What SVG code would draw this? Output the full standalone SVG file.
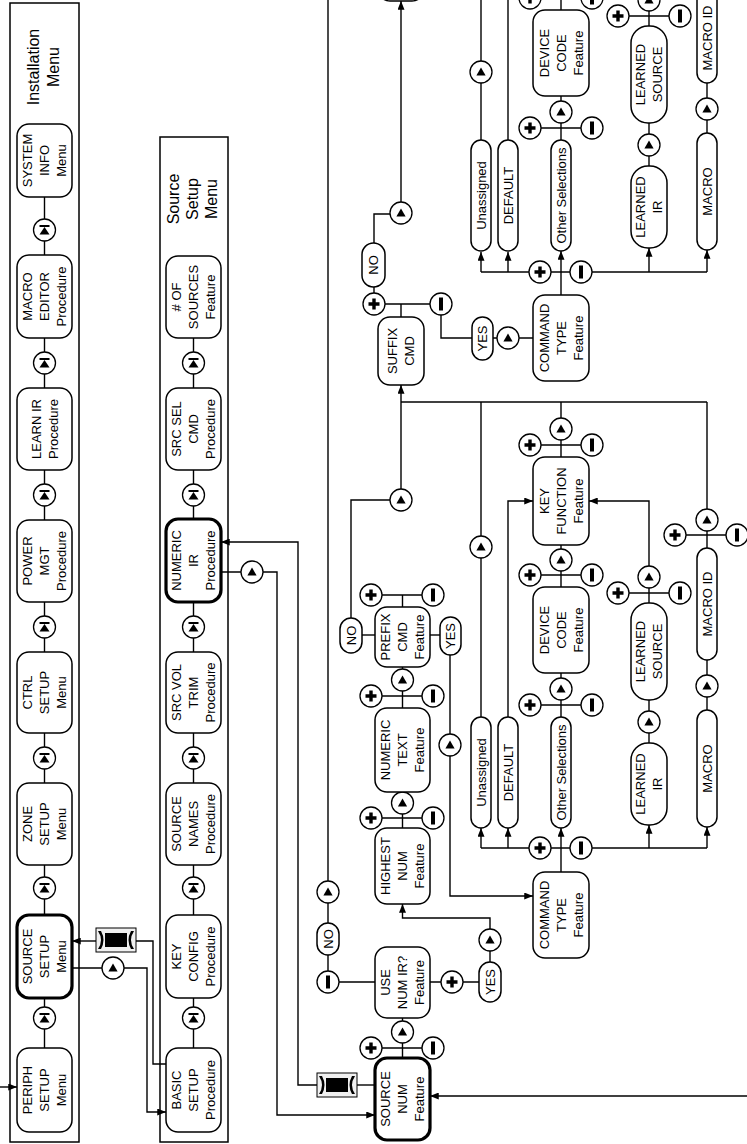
<svg xmlns="http://www.w3.org/2000/svg" width="747" height="1144" viewBox="0 0 747 1144">
<style>
.n{fill:#fff;stroke:#000;stroke-width:1.5}
.nb{fill:#fff;stroke:#000;stroke-width:3.2}
.c{fill:none;stroke:#000;stroke-width:1.4}
.ca{fill:none;stroke:#000;stroke-width:1.4;marker-end:url(#ah)}
.b{fill:#fff;stroke:#000;stroke-width:1.3}
.fr{fill:none;stroke:#000;stroke-width:1.5}
text{font-family:"Liberation Sans",Arial,sans-serif;font-size:13px;text-anchor:middle;fill:#000}
.tt{font-size:16px}
</style>
<defs>
<marker id="ah" viewBox="0 0 10 8" refX="10" refY="4" markerWidth="9" markerHeight="7" markerUnits="userSpaceOnUse" orient="auto"><path d="M0,0L10,4L0,8z" fill="#000"/></marker>
<g id="tri"><circle r="11" class="b"/><polygon points="0,-4.5 4.6,3.5 -4.6,3.5" fill="#000"/></g>
<g id="pl"><circle r="11" class="b"/><path d="M-5.5,0H5.5M0,-5.5V5.5" stroke="#000" stroke-width="3.4"/></g>
<g id="mi"><circle r="11" class="b"/><rect x="-2" y="-6.5" width="4" height="13" fill="#000"/></g>
<g id="st"><circle r="11" class="b"/><rect x="-5" y="-5" width="10" height="2" fill="#000"/><polygon points="0,-3 5,4.5 -5,4.5" fill="#000"/></g>
<g id="rb"><rect x="-20" y="-12" width="40" height="24" fill="#f0f0f0" stroke="#000" stroke-width="1"/><rect x="-11" y="-7" width="22" height="14" fill="#000"/><path d="M-18,-9Q-12,0 -18,9L-15,9Q-10,0 -15,-9Z" fill="#000"/><path d="M18,-9Q12,0 18,9L15,9Q10,0 15,-9Z" fill="#000"/></g>
</defs>
<rect width="747" height="1144" fill="#fff"/>

<g id="frames">
<rect class="fr" x="10" y="3" width="69" height="1139"/>
<rect class="fr" x="160" y="137" width="68" height="1005"/>
<text class="tt" transform="translate(43,67) rotate(-90)"><tspan x="0" y="-4.3">Installation</tspan><tspan x="0" y="15.7">Menu</tspan></text>
<text class="tt" transform="translate(192,199) rotate(-90)"><tspan x="0" y="-13.3">Source</tspan><tspan x="0" y="5.7">Setup</tspan><tspan x="0" y="24.7">Menu</tspan></text>
</g>

<g id="connectors">
<path class="c" d="M44.5,197V1048"/>
<path class="ca" d="M0,1087H17"/>
<path class="c" d="M193.5,338V1048"/>
<path class="ca" d="M96,941H72"/>
<path class="c" d="M136,941H153V1064H166"/>
<path class="ca" d="M72,968H147V1112H166"/>
<path class="ca" d="M317,1085H298V542H221"/>
<path class="c" d="M375,1085H357"/>
<path class="ca" d="M221,572H277V1115H375"/>
<path class="ca" d="M747,1096H430"/>
<path class="c" d="M402.5,1058V1018M371,1048H433"/>
<path class="c" d="M375,982H328V-5"/>
<path class="c" d="M430,982H479"/>
<path class="ca" d="M490,962V918H402.5V904"/>
<path class="c" d="M402.5,828V792M371,818H433"/>
<path class="c" d="M402.5,708V667M371,696H433"/>
<path class="c" d="M402.5,607V595M371,595H433"/>
<path class="c" d="M375,635H362"/>
<path class="ca" d="M351,618V500H401V385"/>
<path class="c" d="M430,635H441"/>
<path class="ca" d="M450,655V896H533"/>
<path class="c" d="M401,402H707"/>
<path class="c" d="M481,402V717"/>
<path class="c" d="M561,402V457M530,445H592"/>
<path class="c" d="M707,402V548M675,535H737"/>
<path class="c" d="M561,545V587M530,575H592"/>
<path class="c" d="M561,673V717M530,705H592"/>
<path class="ca" d="M561,872V828"/>
<path class="c" d="M481,848H707"/>
<path class="ca" d="M481,848V828"/>
<path class="ca" d="M508,848V828"/>
<path class="ca" d="M649,848V825"/>
<path class="ca" d="M707,848V827"/>
<path class="ca" d="M508,717V501H533"/>
<path class="ca" d="M649,603V501H589"/>
<path class="c" d="M618,593H680"/>
<path class="c" d="M649,743V700"/>
<path class="c" d="M707,710V660"/>
<path class="c" d="M401,317V304M374,304H441"/>
<path class="c" d="M374,293V287"/>
<path class="ca" d="M374,243V214H401V1"/>
<path class="c" d="M441,315V338H472"/>
<path class="c" d="M493,338H533"/>
<path class="ca" d="M561,295V251"/>
<path class="c" d="M481,272H707"/>
<path class="ca" d="M481,272V252"/>
<path class="ca" d="M508,272V252"/>
<path class="ca" d="M649,272V248"/>
<path class="ca" d="M707,272V250"/>
<path class="c" d="M561,140V96M530,128H592"/>
<path class="c" d="M561,10V-20M530,-2H592"/>
<path class="c" d="M649,166V123"/>
<path class="c" d="M649,26V-20M618,16H680"/>
<path class="c" d="M707,133V83"/>
<path class="c" d="M481,140V-5"/>
<path class="c" d="M508,140V-5"/>
</g>

<g id="buttons">
<use href="#st" x="44.5" y="230"/><use href="#st" x="44.5" y="363"/><use href="#st" x="44.5" y="495"/><use href="#st" x="44.5" y="627"/><use href="#st" x="44.5" y="758"/><use href="#st" x="44.5" y="888"/><use href="#st" x="44.5" y="1018"/>
<use href="#st" x="193.5" y="363"/><use href="#st" x="193.5" y="495"/><use href="#st" x="193.5" y="627"/><use href="#st" x="193.5" y="758"/><use href="#st" x="193.5" y="888"/><use href="#st" x="193.5" y="1018"/>
<use href="#rb" x="116" y="940"/>
<use href="#rb" x="337" y="1085"/>
<use href="#tri" x="113" y="968"/><use href="#tri" x="252" y="572"/><use href="#tri" x="402.5" y="1032"/><use href="#tri" x="328" y="892"/><use href="#tri" x="490" y="940"/><use href="#tri" x="402.5" y="803"/><use href="#tri" x="402.5" y="680"/><use href="#tri" x="401" y="500"/><use href="#tri" x="450" y="745"/><use href="#tri" x="481" y="547"/><use href="#tri" x="561" y="429"/><use href="#tri" x="707" y="520"/><use href="#tri" x="561" y="560"/><use href="#tri" x="561" y="689"/><use href="#tri" x="649" y="722"/><use href="#tri" x="649" y="577"/><use href="#tri" x="707" y="686"/><use href="#tri" x="401" y="213"/><use href="#tri" x="508" y="338"/><use href="#tri" x="561" y="112"/><use href="#tri" x="649" y="145"/><use href="#tri" x="649" y="0"/><use href="#tri" x="707" y="109"/><use href="#tri" x="481" y="72"/>
<use href="#pl" x="371" y="1048"/><use href="#pl" x="452" y="982"/><use href="#pl" x="371" y="818"/><use href="#pl" x="371" y="696"/><use href="#pl" x="371" y="595"/><use href="#pl" x="530" y="445"/><use href="#pl" x="675" y="535"/><use href="#pl" x="530" y="575"/><use href="#pl" x="530" y="705"/><use href="#pl" x="540" y="848"/><use href="#pl" x="618" y="593"/><use href="#pl" x="374" y="304"/><use href="#pl" x="540" y="272"/><use href="#pl" x="530" y="128"/><use href="#pl" x="530" y="-2"/><use href="#pl" x="618" y="16"/>
<use href="#mi" x="433" y="1048"/><use href="#mi" x="328" y="982"/><use href="#mi" x="433" y="818"/><use href="#mi" x="433" y="696"/><use href="#mi" x="433" y="595"/><use href="#mi" x="592" y="445"/><use href="#mi" x="737" y="535"/><use href="#mi" x="592" y="575"/><use href="#mi" x="592" y="705"/><use href="#mi" x="581" y="848"/><use href="#mi" x="680" y="593"/><use href="#mi" x="441" y="304"/><use href="#mi" x="581" y="272"/><use href="#mi" x="592" y="128"/><use href="#mi" x="592" y="-2"/><use href="#mi" x="680" y="16"/>
</g>

<g id="n-systeminfo"><rect class="n" x="17" y="124" width="55" height="73" rx="12"/><text transform="translate(44.5,160.5) rotate(-90)"><tspan x="0" y="-12.5">SYSTEM</tspan><tspan x="0" y="4.5">INFO</tspan><tspan x="0" y="21.5">Menu</tspan></text></g>
<g id="n-macroeditor"><rect class="n" x="17" y="255" width="55" height="83" rx="12"/><text transform="translate(44.5,296.5) rotate(-90)"><tspan x="0" y="-12.5">MACRO</tspan><tspan x="0" y="4.5">EDITOR</tspan><tspan x="0" y="21.5">Procedure</tspan></text></g>
<g id="n-learnir"><rect class="n" x="17" y="388" width="55" height="82" rx="12"/><text transform="translate(44.5,429) rotate(-90)"><tspan x="0" y="-4">LEARN IR</tspan><tspan x="0" y="13">Procedure</tspan></text></g>
<g id="n-powermgt"><rect class="n" x="17" y="520" width="55" height="82" rx="12"/><text transform="translate(44.5,561) rotate(-90)"><tspan x="0" y="-12.5">POWER</tspan><tspan x="0" y="4.5">MGT</tspan><tspan x="0" y="21.5">Procedure</tspan></text></g>
<g id="n-ctrlsetup"><rect class="n" x="17" y="652" width="55" height="81" rx="12"/><text transform="translate(44.5,692.5) rotate(-90)"><tspan x="0" y="-12.5">CTRL</tspan><tspan x="0" y="4.5">SETUP</tspan><tspan x="0" y="21.5">Menu</tspan></text></g>
<g id="n-zonesetup"><rect class="n" x="17" y="783" width="55" height="82" rx="12"/><text transform="translate(44.5,824) rotate(-90)"><tspan x="0" y="-12.5">ZONE</tspan><tspan x="0" y="4.5">SETUP</tspan><tspan x="0" y="21.5">Menu</tspan></text></g>
<g id="n-sourcesetup"><rect class="nb" x="17" y="915" width="55" height="83" rx="12"/><text transform="translate(44.5,956.5) rotate(-90)"><tspan x="0" y="-12.5">SOURCE</tspan><tspan x="0" y="4.5">SETUP</tspan><tspan x="0" y="21.5">Menu</tspan></text></g>
<g id="n-periphsetup"><rect class="n" x="17" y="1048" width="55" height="84" rx="12"/><text transform="translate(44.5,1090) rotate(-90)"><tspan x="0" y="-12.5">PERIPH</tspan><tspan x="0" y="4.5">SETUP</tspan><tspan x="0" y="21.5">Menu</tspan></text></g>

<g id="n-numsources"><rect class="n" x="166" y="256" width="55" height="82" rx="12"/><text transform="translate(193.5,297) rotate(-90)"><tspan x="0" y="-12.5"># OF</tspan><tspan x="0" y="4.5">SOURCES</tspan><tspan x="0" y="21.5">Feature</tspan></text></g>
<g id="n-srcselcmd"><rect class="n" x="166" y="388" width="55" height="82" rx="12"/><text transform="translate(193.5,429) rotate(-90)"><tspan x="0" y="-12.5">SRC SEL</tspan><tspan x="0" y="4.5">CMD</tspan><tspan x="0" y="21.5">Procedure</tspan></text></g>
<g id="n-numericir"><rect class="nb" x="166" y="519" width="55" height="83" rx="12"/><text transform="translate(193.5,560.5) rotate(-90)"><tspan x="0" y="-12.5">NUMERIC</tspan><tspan x="0" y="4.5">IR</tspan><tspan x="0" y="21.5">Procedure</tspan></text></g>
<g id="n-srcvoltrim"><rect class="n" x="166" y="652" width="55" height="81" rx="12"/><text transform="translate(193.5,692.5) rotate(-90)"><tspan x="0" y="-12.5">SRC VOL</tspan><tspan x="0" y="4.5">TRIM</tspan><tspan x="0" y="21.5">Procedure</tspan></text></g>
<g id="n-sourcenames"><rect class="n" x="166" y="783" width="55" height="82" rx="12"/><text transform="translate(193.5,824) rotate(-90)"><tspan x="0" y="-12.5">SOURCE</tspan><tspan x="0" y="4.5">NAMES</tspan><tspan x="0" y="21.5">Procedure</tspan></text></g>
<g id="n-keyconfig"><rect class="n" x="166" y="915" width="55" height="83" rx="12"/><text transform="translate(193.5,956.5) rotate(-90)"><tspan x="0" y="-12.5">KEY</tspan><tspan x="0" y="4.5">CONFIG</tspan><tspan x="0" y="21.5">Procedure</tspan></text></g>
<g id="n-basicsetup"><rect class="n" x="166" y="1048" width="55" height="84" rx="12"/><text transform="translate(193.5,1090) rotate(-90)"><tspan x="0" y="-12.5">BASIC</tspan><tspan x="0" y="4.5">SETUP</tspan><tspan x="0" y="21.5">Procedure</tspan></text></g>

<g id="n-sourcenum"><rect class="nb" x="375" y="1058" width="55" height="82" rx="12"/><text transform="translate(402.5,1099) rotate(-90)"><tspan x="0" y="-12.5">SOURCE</tspan><tspan x="0" y="4.5">NUM</tspan><tspan x="0" y="21.5">Feature</tspan></text></g>
<g id="n-usenumir"><rect class="n" x="375" y="947" width="55" height="71" rx="12"/><text transform="translate(402.5,982.5) rotate(-90)"><tspan x="0" y="-12.5">USE</tspan><tspan x="0" y="4.5">NUM IR?</tspan><tspan x="0" y="21.5">Feature</tspan></text></g>
<g id="n-highestnum"><rect class="n" x="375" y="828" width="55" height="76" rx="12"/><text transform="translate(402.5,866) rotate(-90)"><tspan x="0" y="-12.5">HIGHEST</tspan><tspan x="0" y="4.5">NUM</tspan><tspan x="0" y="21.5">Feature</tspan></text></g>
<g id="n-numerictext"><rect class="n" x="375" y="708" width="55" height="84" rx="12"/><text transform="translate(402.5,750) rotate(-90)"><tspan x="0" y="-12.5">NUMERIC</tspan><tspan x="0" y="4.5">TEXT</tspan><tspan x="0" y="21.5">Feature</tspan></text></g>
<g id="n-prefixcmd"><rect class="n" x="375" y="607" width="55" height="60" rx="12"/><text transform="translate(402.5,637) rotate(-90)"><tspan x="0" y="-12.5">PREFIX</tspan><tspan x="0" y="4.5">CMD</tspan><tspan x="0" y="21.5">Feature</tspan></text></g>
<g id="n-suffixcmd"><rect class="n" x="378" y="317" width="46" height="68" rx="12"/><text transform="translate(401,351) rotate(-90)"><tspan x="0" y="-4">SUFFIX</tspan><tspan x="0" y="13">CMD</tspan></text></g>
<g id="n-offpage"><rect class="n" x="378" y="-60" width="46" height="61" rx="12"/></g>

<g id="n-no1"><rect class="n" x="317" y="923" width="22" height="32" rx="11"/><text transform="translate(328,939) rotate(-90)" y="4.5">NO</text></g>
<g id="n-yes1"><rect class="n" x="479" y="962" width="22" height="40" rx="11"/><text transform="translate(490,982) rotate(-90)" y="4.5">YES</text></g>
<g id="n-no2"><rect class="n" x="340" y="618" width="22" height="35" rx="11"/><text transform="translate(351,635.5) rotate(-90)" y="4.5">NO</text></g>
<g id="n-yes2"><rect class="n" x="440" y="617" width="21" height="38" rx="10.5"/><text transform="translate(450.5,636) rotate(-90)" y="4.5">YES</text></g>
<g id="n-no3"><rect class="n" x="362" y="243" width="23" height="44" rx="11.5"/><text transform="translate(373.5,265) rotate(-90)" y="4.5">NO</text></g>
<g id="n-yes3"><rect class="n" x="472" y="317" width="21" height="43" rx="10.5"/><text transform="translate(482.5,338.5) rotate(-90)" y="4.5">YES</text></g>

<g id="n-keyfunction"><rect class="n" x="533" y="457" width="56" height="88" rx="12"/><text transform="translate(561,501) rotate(-90)"><tspan x="0" y="-12.5">KEY</tspan><tspan x="0" y="4.5">FUNCTION</tspan><tspan x="0" y="21.5">Feature</tspan></text></g>
<g id="n-devicecode2"><rect class="n" x="533" y="587" width="56" height="86" rx="12"/><text transform="translate(561,630) rotate(-90)"><tspan x="0" y="-12.5">DEVICE</tspan><tspan x="0" y="4.5">CODE</tspan><tspan x="0" y="21.5">Feature</tspan></text></g>
<g id="n-commandtype2"><rect class="n" x="533" y="872" width="56" height="86" rx="12"/><text transform="translate(561,915) rotate(-90)"><tspan x="0" y="-12.5">COMMAND</tspan><tspan x="0" y="4.5">TYPE</tspan><tspan x="0" y="21.5">Feature</tspan></text></g>
<g id="n-unassigned2"><rect class="n" x="471" y="717" width="20" height="111" rx="10"/><text transform="translate(481,772.5) rotate(-90)" y="4.5">Unassigned</text></g>
<g id="n-default2"><rect class="n" x="498" y="717" width="20" height="111" rx="10"/><text transform="translate(508,772.5) rotate(-90)" y="4.5">DEFAULT</text></g>
<g id="n-other2"><rect class="n" x="551" y="717" width="20" height="111" rx="10"/><text transform="translate(561,772.5) rotate(-90)" y="4.5">Other Selections</text></g>
<g id="n-learnedir2"><rect class="n" x="631" y="743" width="36" height="82" rx="17"/><text transform="translate(649,784) rotate(-90)"><tspan x="0" y="-4">LEARNED</tspan><tspan x="0" y="13">IR</tspan></text></g>
<g id="n-learnedsource2"><rect class="n" x="631" y="603" width="36" height="97" rx="17"/><text transform="translate(649,651.5) rotate(-90)"><tspan x="0" y="-4">LEARNED</tspan><tspan x="0" y="13">SOURCE</tspan></text></g>
<g id="n-macro2"><rect class="n" x="697" y="710" width="20" height="117" rx="10"/><text transform="translate(707,768.5) rotate(-90)" y="4.5">MACRO</text></g>
<g id="n-macroid2"><rect class="n" x="697" y="548" width="20" height="112" rx="10"/><text transform="translate(707,604) rotate(-90)" y="4.5">MACRO ID</text></g>

<g id="n-devicecode1"><rect class="n" x="533" y="10" width="56" height="86" rx="12"/><text transform="translate(561,53) rotate(-90)"><tspan x="0" y="-12.5">DEVICE</tspan><tspan x="0" y="4.5">CODE</tspan><tspan x="0" y="21.5">Feature</tspan></text></g>
<g id="n-commandtype1"><rect class="n" x="533" y="295" width="56" height="86" rx="12"/><text transform="translate(561,338) rotate(-90)"><tspan x="0" y="-12.5">COMMAND</tspan><tspan x="0" y="4.5">TYPE</tspan><tspan x="0" y="21.5">Feature</tspan></text></g>
<g id="n-unassigned1"><rect class="n" x="471" y="140" width="20" height="111" rx="10"/><text transform="translate(481,195.5) rotate(-90)" y="4.5">Unassigned</text></g>
<g id="n-default1"><rect class="n" x="498" y="140" width="20" height="111" rx="10"/><text transform="translate(508,195.5) rotate(-90)" y="4.5">DEFAULT</text></g>
<g id="n-other1"><rect class="n" x="551" y="140" width="20" height="111" rx="10"/><text transform="translate(561,195.5) rotate(-90)" y="4.5">Other Selections</text></g>
<g id="n-learnedir1"><rect class="n" x="631" y="166" width="36" height="82" rx="17"/><text transform="translate(649,207) rotate(-90)"><tspan x="0" y="-4">LEARNED</tspan><tspan x="0" y="13">IR</tspan></text></g>
<g id="n-learnedsource1"><rect class="n" x="631" y="26" width="36" height="97" rx="17"/><text transform="translate(649,74.5) rotate(-90)"><tspan x="0" y="-4">LEARNED</tspan><tspan x="0" y="13">SOURCE</tspan></text></g>
<g id="n-macro1"><rect class="n" x="697" y="133" width="20" height="117" rx="10"/><text transform="translate(707,191.5) rotate(-90)" y="4.5">MACRO</text></g>
<g id="n-macroid1"><rect class="n" x="697" y="-29" width="20" height="112" rx="10"/><text transform="translate(707,38) rotate(-90)" y="4.5">MACRO ID</text></g>
</svg>
